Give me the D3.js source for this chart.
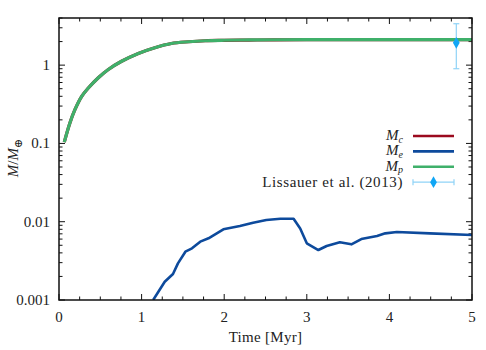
<!DOCTYPE html>
<html><head><meta charset="utf-8">
<script src="https://cdn.jsdelivr.net/npm/d3@7"></script>
<style>
body{margin:0;background:#fff;}
svg text{font-family:"Liberation Serif","DejaVu Serif",serif;fill:#222;}
</style></head><body>
<svg id="c" width="486" height="350"></svg>
<script>
// ---- data ----
const mpTime = [0.064,0.133,0.194,0.275,0.355,0.476,0.597,0.758,0.96,1.16,1.36,1.57,1.77,2.0,2.3,2.6,3.0,3.5,4.0,4.5,5.0];
const mpMass = [0.104,0.184,0.272,0.40,0.51,0.69,0.88,1.12,1.41,1.67,1.89,1.99,2.05,2.08,2.10,2.11,2.12,2.12,2.12,2.12,2.12];
const mcMass = [0.104,0.184,0.272,0.40,0.51,0.69,0.88,1.12,1.41,1.67,1.89,1.99,2.05,2.07,2.09,2.10,2.11,2.11,2.11,2.11,2.11];
const meTime = [1.14,1.28,1.38,1.44,1.53,1.61,1.71,1.81,1.99,2.19,2.35,2.51,2.68,2.84,2.92,3.0,3.14,3.24,3.40,3.54,3.66,3.85,3.95,4.09,4.49,5.0];
const meMass = [0.001,0.00171,0.00215,0.00294,0.00414,0.00457,0.00556,0.00614,0.0080,0.0088,0.0097,0.0105,0.0109,0.0109,0.0082,0.0053,0.00435,0.0049,0.00546,0.00514,0.0060,0.00657,0.0071,0.00738,0.0071,0.00676];
const obsTime = [4.81];
const obsMass = [1.93];
const obsLow = [0.90];
const obsHigh = [3.38];
const xTicks = [0,1,2,3,4,5];
const yTicks = [0.001,0.01,0.1,1];
const yTickLabels = ["0.001","0.01","0.1","1"];
const legendNames = ["c","e","p"];

// ---- layout ----
const FONT="Liberation Serif, DejaVu Serif, serif";
const L=59,R=472,T=18,B=300;
const svg=d3.select("#c");
const x=d3.scaleLinear().domain([0,5]).range([L,R]);
const y=d3.scaleLog().domain([0.001,4]).range([B,T]);
const colC="#9b0a1e", colE="#0d4a9c", colP="#3fb06a", colObs="#10a6f5", colBar="#8fd3f7";

const xMinor=d3.range(0,5.001,0.25).filter(v=>Math.abs(v-Math.round(v))>1e-6);
const yMinor=[];
for(let d=-3; d<=0; d++) for(let k=2;k<=9;k++){const v=k*Math.pow(10,d); if(v<=4) yMinor.push(v);}

const ax=svg.append("g").attr("stroke","#111").attr("stroke-width",1);
xTicks.forEach(v=>{
  ax.append("line").attr("x1",x(v)).attr("x2",x(v)).attr("y1",B).attr("y2",B-6);
  ax.append("line").attr("x1",x(v)).attr("x2",x(v)).attr("y1",T).attr("y2",T+6);
});
xMinor.forEach(v=>{
  ax.append("line").attr("x1",x(v)).attr("x2",x(v)).attr("y1",B).attr("y2",B-3.5);
  ax.append("line").attr("x1",x(v)).attr("x2",x(v)).attr("y1",T).attr("y2",T+3.5);
});
yTicks.forEach(v=>{
  ax.append("line").attr("x1",L).attr("x2",L+6).attr("y1",y(v)).attr("y2",y(v));
  ax.append("line").attr("x1",R).attr("x2",R-6).attr("y1",y(v)).attr("y2",y(v));
});
yMinor.forEach(v=>{
  ax.append("line").attr("x1",L).attr("x2",L+3.5).attr("y1",y(v)).attr("y2",y(v));
  ax.append("line").attr("x1",R).attr("x2",R-3.5).attr("y1",y(v)).attr("y2",y(v));
});

svg.append("g").selectAll("text").data(xTicks).join("text")
  .attr("font-family",FONT)
  .attr("x",d=>x(d)).attr("y",322).attr("text-anchor","middle").attr("font-size",15).text(d=>d);
svg.append("g").selectAll("text").data(yTicks).join("text")
  .attr("font-family",FONT)
  .attr("x",50).attr("y",d=>y(d)+5).attr("text-anchor","end").attr("font-size",15)
  .text((d,i)=>yTickLabels[i]);

svg.append("text").attr("font-family",FONT).attr("x",(L+R)/2).attr("y",342).attr("text-anchor","middle").attr("font-size",15).attr("letter-spacing",0.3).text("Time [Myr]");
const yl=svg.append("text").attr("font-family",FONT).attr("transform","translate(18,158) rotate(-90)").attr("text-anchor","middle").attr("font-size",15);
yl.append("tspan").attr("font-style","italic").text("M");
yl.append("tspan").text("/");
yl.append("tspan").attr("font-style","italic").text("M");
yl.append("tspan").attr("font-size",11).attr("dy",4).text("⊕");

svg.append("clipPath").attr("id","clp").append("rect").attr("x",L).attr("y",T).attr("width",R-L).attr("height",B-T);
const g=svg.append("g").attr("clip-path","url(#clp)");
const line=d3.line().x(d=>x(d[0])).y(d=>y(d[1])).curve(d3.curveCatmullRom.alpha(0.5));

g.append("path").datum(mpTime.map((t,i)=>[t,mcMass[i]])).attr("d",line).attr("fill","none").attr("stroke",colC).attr("stroke-width",3.2);
g.append("path").datum(meTime.map((t,i)=>[t,meMass[i]])).attr("d",d3.line().x(d=>x(d[0])).y(d=>y(d[1]))).attr("fill","none").attr("stroke",colE).attr("stroke-width",2.6).attr("stroke-linejoin","round");
g.append("path").datum(mpTime.map((t,i)=>[t,mpMass[i]])).attr("d",line).attr("fill","none").attr("stroke",colP).attr("stroke-width",3.2);

obsTime.forEach((t,i)=>{
  const cx=x(t);
  g.append("line").attr("x1",cx).attr("x2",cx).attr("y1",y(obsLow[i])).attr("y2",y(obsHigh[i])).attr("stroke",colBar).attr("stroke-width",1.2);
  [obsLow[i],obsHigh[i]].forEach(v=>g.append("line").attr("x1",cx-3).attr("x2",cx+3).attr("y1",y(v)).attr("y2",y(v)).attr("stroke",colBar).attr("stroke-width",1.2));
  g.append("path").attr("d",d3.symbol(d3.symbolDiamond,40)()).attr("transform",`translate(${cx},${y(obsMass[i])})`).attr("fill",colObs);
});

svg.append("rect").attr("x",L).attr("y",T).attr("width",R-L).attr("height",B-T).attr("fill","none").attr("stroke","#111").attr("stroke-width",1.5);

const lx1=413, lx2=454, ltx=403, ly0=136, ldy=15.4;
const lcols=[colC,colE,colP];
legendNames.forEach((n,i)=>{
  const yy=ly0+i*ldy;
  const t=svg.append("text").attr("font-family",FONT).attr("x",ltx).attr("y",yy+4).attr("text-anchor","end").attr("font-size",15);
  t.append("tspan").attr("font-style","italic").text("M");
  t.append("tspan").attr("font-style","italic").attr("font-size",10).attr("dy",2.5).text(n);
  svg.append("line").attr("x1",lx1).attr("x2",lx2).attr("y1",yy).attr("y2",yy).attr("stroke",lcols[i]).attr("stroke-width",2.6);
});
{
  const yy=ly0+3*ldy;
  svg.append("text").attr("font-family",FONT).attr("x",ltx).attr("y",yy+5).attr("text-anchor","end").attr("font-size",15).attr("letter-spacing",0.6).text("Lissauer et al. (2013)");
  svg.append("line").attr("x1",lx1).attr("x2",lx2).attr("y1",yy).attr("y2",yy).attr("stroke",colBar).attr("stroke-width",1.2);
  [lx1,lx2].forEach(xx=>svg.append("line").attr("x1",xx).attr("x2",xx).attr("y1",yy-3).attr("y2",yy+3).attr("stroke",colBar).attr("stroke-width",1.2));
  svg.append("path").attr("d",d3.symbol(d3.symbolDiamond,40)()).attr("transform",`translate(${(lx1+lx2)/2},${yy})`).attr("fill",colObs);
}
</script></body></html>
